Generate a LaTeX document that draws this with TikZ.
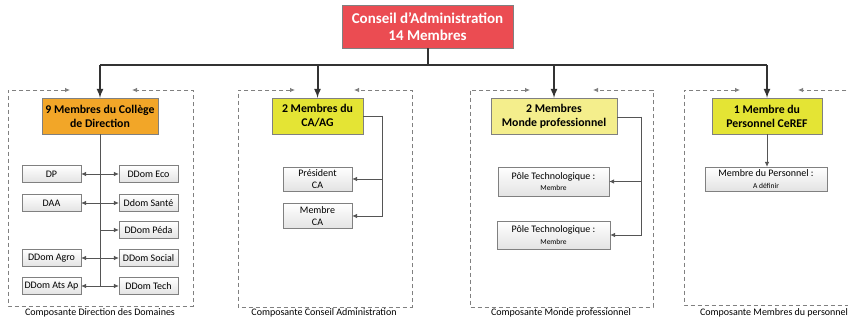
\documentclass[tikz,border=0pt]{standalone}
\usepackage{fontspec}
\setmainfont{Carlito}
\usetikzlibrary{positioning,arrows,arrows.meta,calc}
\definecolor{cared}{RGB}{235,76,82}
\definecolor{colorange}{RGB}{242,166,40}
\definecolor{cayellow}{RGB}{228,228,52}
\definecolor{mpyellow}{RGB}{244,238,140}
\definecolor{boxline}{RGB}{128,128,128}
\definecolor{linkgray}{RGB}{85,85,85}

\begin{document}
\begin{tikzpicture}[x=1pt, y=-1pt,
    council/.style={draw=boxline, fill=cared, text=white, font=\fontsize{15}{17}\selectfont\bfseries,
        align=center, minimum width=171pt, minimum height=43pt, inner sep=0pt},
    member/.style={draw=boxline, font=\fontsize{11.8}{14}\selectfont\bfseries, align=center,
        minimum height=36pt, inner sep=0pt},
    smallbox/.style={draw=boxline, top color=white, bottom color=gray!22, font=\fontsize{10}{11.5}\selectfont,
        align=center, minimum width=59pt, minimum height=17pt, inner sep=0pt},
    tip/.style={-{Latex[length=5pt,width=4.5pt]}},
    tips/.style={{Latex[length=5pt,width=4.5pt]}-{Latex[length=5pt,width=4.5pt]}},
    frame/.style={draw=gray, dashed, dash pattern=on 4pt off 3pt, line width=0.8pt, tips},
    caption/.style={font=\fontsize{10}{12}\selectfont, inner sep=0pt},
    trunk/.style={draw=black!80, line width=2pt},
    link/.style={draw=linkgray, line width=0.7pt}]
    \useasboundingbox (0,0) rectangle (848,320);
    \clip (0,0) rectangle (848,320);

    % Council
    \node[council] (council) at (427.5,26.5) {Conseil d’Administration\\14 Membres};

    % Member groups
    \node[member, fill=colorange, minimum width=116pt] (coll) at (100,116) {9 Membres du Collège\\de Direction};
    \node[member, fill=cayellow, minimum width=91pt] (ca) at (317.5,116) {2 Membres du\\CA/AG};
    \node[member, fill=mpyellow, minimum width=126pt] (mp) at (554,116) {2 Membres\\Monde professionnel};
    \node[member, fill=cayellow, minimum width=110pt] (pers) at (767,116) {1 Membre du\\Personnel CeREF};

    % Trunk to the groups
    \draw[trunk] (council.south) -- ++(0,17) coordinate (bus);
    \draw[trunk] (bus -| coll.north) -- (bus -| pers.north);
    \foreach \g in {coll, ca, mp, pers}
        \draw[trunk, -latex] (bus -| \g.north) -- (\g.north);

    % Direction des Domaines
    \draw[frame] (70,90) -- (8,90) -- (8,306) -- (193,306) -- (193,90) -- (132,90);
    \node[caption] (cap1) at (100,313) {Composante Direction des Domaines};
    \node[smallbox] (dp) at (51.5,174) {DP};
    \node[smallbox] (daa) at (51.5,203) {DAA};
    \node[smallbox] (agro) at (51.5,258) {DDom Agro};
    \node[smallbox] (ats) at (51.5,286) {DDom Ats Ap};
    \node[smallbox] (eco) at (148.5,174) {DDom Eco};
    \node[smallbox] (sante) at (148.5,203) {Ddom Santé};
    \node[smallbox] (peda) at (148.5,230) {DDom Péda};
    \node[smallbox] (social) at (148.5,258) {DDom Social};
    \node[smallbox] (tech) at (148.5,286) {DDom Tech};
    \draw[link] (coll.south) -- (coll.south |- ats.east);
    \draw[link, tips] (dp.east) -- (eco.west);
    \draw[link, tips] (daa.east) -- (sante.west);
    \draw[link, tip] (coll.south |- peda.west) -- (peda.west);
    \draw[link, tips] (agro.east) -- (social.west);
    \draw[link, tips] (ats.east) -- (tech.west);

    % Conseil Administration
    \draw[frame] (295,90) -- (238,90) -- (238,307) -- (412,307) -- (412,90) -- (354,90);
    \node[caption] (cap2) at (324,313) {Composante Conseil Administration};
    \node[smallbox, minimum width=69pt, minimum height=24pt] (pres) at (317.5,179) {Président\\CA};
    \node[smallbox, minimum width=69pt, minimum height=25pt] (mca) at (317.5,216) {Membre\\CA};
    \coordinate (caR) at (382,116);
    \draw[link] (ca.east) -- (caR);
    \draw[link, tip] (caR) |- (pres.east);
    \draw[link, tip] (caR) |- (mca.east);

    % Monde professionnel
    \draw[frame] (530,90) -- (470,90) -- (470,307) -- (653,307) -- (653,90) -- (593,90);
    \node[caption] (cap3) at (561,313) {Composante Monde professionnel};
    \node[smallbox, minimum width=111pt, minimum height=29pt] (pole1) at (553.5,181.5)
        {Pôle Technologique :\\{\fontsize{7.5}{9}\selectfont Membre}};
    \node[smallbox, minimum width=113pt, minimum height=28pt] (pole2) at (553.5,235)
        {Pôle Technologique :\\{\fontsize{7.5}{9}\selectfont Membre}};
    \coordinate (mpR) at (641,117);
    \draw[link] (mp.east |- mpR) -- (mpR);
    \draw[link, tip] (mpR) |- (pole1.east);
    \draw[link, tip] (mpR) |- (pole2.east);

    % Membres du personnel
    \draw[frame] (740,90) -- (684,90) -- (684,305) -- (850,305) -- (850,90) -- (798,90);
    \node[caption] (cap4) at (774,313) {Composante Membres du personnel};
    \node[smallbox, minimum width=122pt, minimum height=24pt] (mpers) at (766,179)
        {Membre du Personnel :\\{\fontsize{7.5}{9}\selectfont A définir}};
    \draw[link, tip] (pers.south) -- (pers.south |- mpers.north);
\end{tikzpicture}
\end{document}
